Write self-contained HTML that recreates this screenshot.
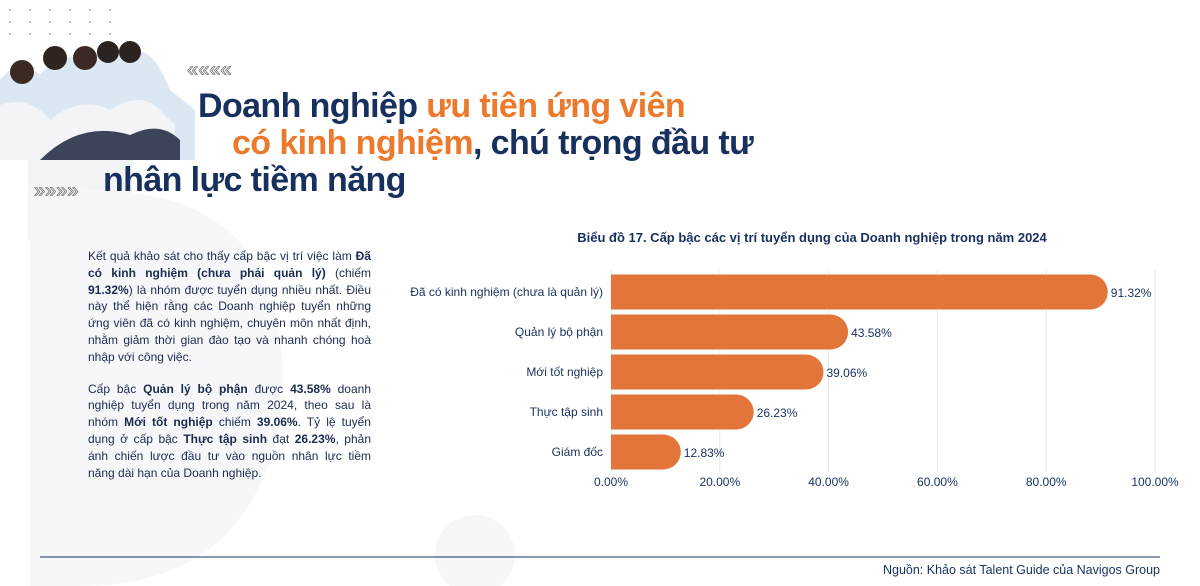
<!DOCTYPE html>
<html><head><meta charset="utf-8">
<style>
body{margin:0;width:1200px;height:586px;overflow:hidden;background:#fff;font-family:"Liberation Sans",sans-serif;position:relative}
.abs{position:absolute}
.t{font-weight:bold;font-size:34px;color:#17305e;letter-spacing:-0.6px;white-space:nowrap}
.o{color:#ec7a2c}
#para{left:88px;top:248px;width:283px;font-size:12px;line-height:16.8px;color:#1b2b4f;text-align:justify}
#para p{margin:0 0 15px 0}
</style></head><body>
<svg class="abs" style="left:0;top:0" width="1200" height="586">
<rect x="28" y="160" width="104" height="80" fill="#f3f4f6"/>
<path d="M30 240 L30 586 L80 586 Q250 586 280 420 Q300 240 170 200 Q110 185 30 190Z" fill="#f6f7f9"/>
<circle cx="475" cy="555" r="40" fill="#f6f7f9"/>
<g fill="#aab">
<circle cx="10" cy="10" r="1"/><circle cx="30" cy="10" r="1"/><circle cx="50" cy="10" r="1"/><circle cx="70" cy="10" r="1"/><circle cx="90" cy="10" r="1"/><circle cx="110" cy="10" r="1"/>
<circle cx="10" cy="22" r="1"/><circle cx="30" cy="22" r="1"/><circle cx="50" cy="22" r="1"/><circle cx="70" cy="22" r="1"/><circle cx="90" cy="22" r="1"/><circle cx="110" cy="22" r="1"/>
<circle cx="10" cy="34" r="1"/><circle cx="30" cy="34" r="1"/><circle cx="50" cy="34" r="1"/><circle cx="70" cy="34" r="1"/><circle cx="90" cy="34" r="1"/><circle cx="110" cy="34" r="1"/>
</g>
<g>
<path d="M0 160 L0 80 Q20 55 40 75 Q60 50 85 60 Q110 45 130 55 Q150 40 170 90 L195 110 L195 160Z" fill="#dce7f4"/>
<path d="M0 160 L0 105 Q30 95 50 120 Q80 95 110 110 Q140 90 160 110 L175 125 L175 160Z" fill="#f2f4f7"/>
<path d="M40 160 Q80 120 130 135 Q160 120 180 140 L180 160Z" fill="#3b4458"/>
<circle cx="22" cy="72" r="12" fill="#3a2a22"/><circle cx="55" cy="58" r="12" fill="#2e2420"/><circle cx="85" cy="58" r="12" fill="#3b2a24"/><circle cx="108" cy="52" r="11" fill="#2b2320"/><circle cx="130" cy="52" r="11" fill="#2b2320"/>
</g>
<text x="187" y="76" font-size="20" fill="none" stroke="#777" stroke-width="0.8" font-family="Liberation Sans">««««</text>
<text x="34" y="197" font-size="20" fill="none" stroke="#777" stroke-width="0.8" font-family="Liberation Sans">»»»»</text>
<line x1="40" y1="557" x2="1160" y2="557" stroke="#17305e" stroke-width="1"/>
</svg>
<div class="abs t" style="left:198px;top:87px">Doanh nghiệp <span class="o">ưu tiên ứng viên</span></div>
<div class="abs t" style="left:232px;top:124px"><span class="o">có kinh nghiệm</span>, chú trọng đầu tư</div>
<div class="abs t" style="left:103px;top:161px">nhân lực tiềm năng</div>
<div id="para" class="abs">
<p>Kết quả khảo sát cho thấy cấp bậc vị trí việc làm <b>Đã có kinh nghiệm (chưa phải quản lý)</b> (chiếm <b>91.32%</b>) là nhóm được tuyển dụng nhiều nhất. Điều này thể hiện rằng các Doanh nghiệp tuyển những ứng viên đã có kinh nghiệm, chuyên môn nhất định, nhằm giảm thời gian đào tạo và nhanh chóng hoà nhập với công việc.</p>
<p>Cấp bậc <b>Quản lý bộ phận</b> được <b>43.58%</b> doanh nghiệp tuyển dụng trong năm 2024, theo sau là nhóm <b>Mới tốt nghiệp</b> chiếm <b>39.06%</b>. Tỷ lệ tuyển dụng ở cấp bậc <b>Thực tập sinh</b> đạt <b>26.23%</b>, phản ánh chiến lược đầu tư vào nguồn nhân lực tiềm năng dài hạn của Doanh nghiệp.</p>
</div>
<div class="abs" style="right:40px;top:563px;font-size:12.5px;color:#17305e">Nguồn: Khảo sát Talent Guide của Navigos Group</div>
<svg id="chart" class="abs" style="left:0;top:0" width="1200" height="586">
<text x="812" y="242" text-anchor="middle" font-size="13" font-weight="bold" fill="#17305e" font-family="Liberation Sans">Biểu đồ 17. Cấp bậc các vị trí tuyển dụng của Doanh nghiệp trong năm 2024</text>
</svg>
<script>
const categories=["Đã có kinh nghiệm (chưa là quản lý)","Quản lý bộ phận","Mới tốt nghiệp","Thực tập sinh","Giám đốc"];
const values=[91.32,43.58,39.06,26.23,12.83];
const ticks=[0,20,40,60,80,100];
const svg=document.getElementById('chart');const NS='http://www.w3.org/2000/svg';
const x=v=>611+v*5.44;const y=i=>292+i*40;const bh=35;
function mk(t,a){const e=document.createElementNS(NS,t);for(const k in a)e.setAttribute(k,a[k]);svg.appendChild(e);return e;}
ticks.forEach(t=>{
const l=mk('line',{x1:x(t),x2:x(t),y1:270,y2:472,stroke:'#e6e6e6','stroke-width':1});


const tx=mk('text',{x:x(t),y:486,'text-anchor':'middle','font-size':12,fill:'#17305e','font-family':'Liberation Sans'});tx.textContent=t.toFixed(2)+'%';


});
values.forEach((v,i)=>{
const r=bh/2,t=y(i)-r;
const p=mk('path',{d:`M${x(0)} ${t} H${x(v)-r} A${r} ${r} 0 0 1 ${x(v)-r} ${t+bh} H${x(0)}Z`,fill:'#e2763a'});


const c=mk('text',{x:x(0)-8,y:y(i)+4,'text-anchor':'end','font-size':12,fill:'#17305e','font-family':'Liberation Sans'});c.textContent=categories[i];


const vl=mk('text',{x:x(v)+3,y:y(i)+5,'font-size':12,fill:'#17305e','font-family':'Liberation Sans'});vl.textContent=v.toFixed(2)+'%';


});
</script>
</body></html>
